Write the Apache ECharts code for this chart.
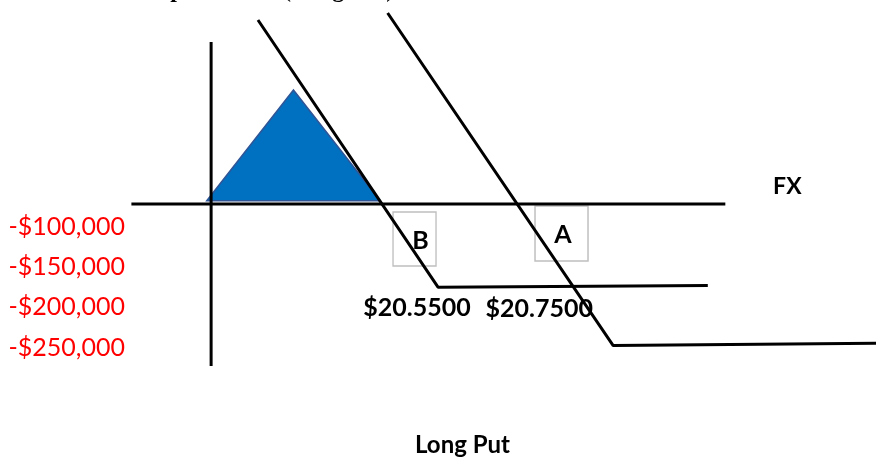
<!DOCTYPE html>
<html>
<head>
<meta charset="utf-8">
<script src="https://cdn.jsdelivr.net/npm/echarts@6.0.0/dist/echarts.min.js"></script>
<style>
  html, body { margin: 0; padding: 0; background: #ffffff; }
  #chart { width: 876px; height: 458px; }
</style>
</head>
<body>
<div id="chart"></div>
<script>
// Horizontal axis: FX rate. Vertical axis: profit in dollars.
const fxRange = [20.05, 21.05];
const profitRange = [-317500, 255000];

// Hand-drawn axes of the payoff sketch
const fxAxisLine = [[20.20, 0], [20.878, 0]];
const profitAxisLine = [[20.291, 202500], [20.291, -202500]];

// Shaded gain region
const gainTriangle = [[20.286, 4000], [20.385, 142500], [20.484, 4000]];

// Long put payoffs (B: lower strike, A: higher strike)
const putB = [[20.3445, 230000], [20.55, -104000], [20.858, -102000]];
const putA = [[20.4925, 238750], [20.75, -177000], [21.05, -174000]];

// Strike prices and the payoff floor at each strike
const strikes = [20.55, 20.75];
const strikeFloors = [-104000, -177000];

// Boxed line tags
const tagNames = ['B', 'A'];
const tagAnchors = [[20.5232, -43750], [20.691, -36875]];

// Profit tick labels
const profitTicks = [-100000, -150000, -200000, -250000];

const labelFont = 'Lato, "Open Sans", sans-serif';
const lineStyle = { color: '#000000', width: 3 };

function money(v) {
  const s = Math.abs(v).toString().replace(/\B(?=(\d{3})+(?!\d))/g, ',');
  return (v < 0 ? '-$' : '$') + s;
}

const tagBoxSizes = [[43, 54], [53, 55]];
const tagTextOffsets = [[6, 2], [1.5, 1.5]];
const strikeTextOffsets = [[-21, 21], [-74, -37]];

const chart = echarts.init(document.getElementById('chart'), null, { renderer: 'canvas' });

chart.setOption({
  animation: false,
  backgroundColor: '#ffffff',
  grid: [
    { left: 0, right: 0, top: 0, bottom: 0 },
    { left: 130, width: 1, top: 146.7, height: 241 }
  ],
  xAxis: [
    { type: 'value', gridIndex: 0, min: fxRange[0], max: fxRange[1], show: false },
    { type: 'value', gridIndex: 1, min: 0, max: 1, show: false }
  ],
  yAxis: [
    { type: 'value', gridIndex: 0, min: profitRange[0], max: profitRange[1], show: false },
    {
      type: 'value', gridIndex: 1, min: -300000, max: 0, interval: 50000,
      axisLine: { show: false }, axisTick: { show: false }, splitLine: { show: false },
      axisLabel: {
        margin: 5,
        color: '#FF0000',
        fontFamily: labelFont,
        fontSize: 25,
        formatter: v => (profitTicks.indexOf(v) >= 0 ? money(v) : '')
      }
    }
  ],
  graphic: [
    {
      type: 'text', x: 157, y: 3, z: 10,
      style: {
        text: 'Speculation (Long Put)',
        font: 'bold 24px "Liberation Serif", "DejaVu Serif", serif',
        fill: '#000000',
        verticalAlign: 'bottom'
      }
    },
    {
      type: 'text', x: 462.5, y: 445, z: 10,
      style: {
        text: 'Long Put',
        font: 'bold 24px ' + labelFont,
        fill: '#000000',
        align: 'center',
        verticalAlign: 'middle'
      }
    }
  ],
  series: [
    {
      type: 'custom',
      name: 'gain',
      z: 1,
      data: gainTriangle,
      encode: { x: 0, y: 1 },
      renderItem: (params, api) => {
        if (params.dataIndex !== 0) return null;
        return {
          type: 'polygon',
          shape: { points: gainTriangle.map(p => api.coord(p)) },
          style: { fill: '#0070C0', stroke: '#2F5597', lineWidth: 1.5 }
        };
      }
    },
    {
      type: 'scatter',
      name: 'tags',
      z: 2,
      data: tagAnchors.map((p, i) => ({
        value: p,
        name: tagNames[i],
        symbolSize: tagBoxSizes[i],
        label: { offset: tagTextOffsets[i] }
      })),
      symbol: 'rect',
      itemStyle: { color: 'rgba(255,255,255,0)', borderColor: '#BFBFBF', borderWidth: 1.5, opacity: 1 },
      label: {
        show: true, position: 'inside', formatter: p => p.name,
        color: '#000000', fontFamily: labelFont, fontWeight: 'bold', fontSize: 25
      },
      emphasis: { disabled: true }
    },
    { type: 'line', name: 'fx axis', z: 3, data: fxAxisLine, symbol: 'none', lineStyle: lineStyle },
    { type: 'line', name: 'profit axis', z: 3, data: profitAxisLine, symbol: 'none', lineStyle: lineStyle },
    { type: 'line', name: 'put B', z: 3, data: putB, symbol: 'none', lineStyle: lineStyle },
    { type: 'line', name: 'put A', z: 3, data: putA, symbol: 'none', lineStyle: lineStyle },
    {
      type: 'scatter',
      name: 'strikes',
      z: 4,
      symbolSize: 0,
      itemStyle: { opacity: 1 },
      data: strikes.map((s, i) => ({
        value: [s, strikeFloors[i]],
        label: { offset: strikeTextOffsets[i] }
      })),
      label: {
        show: true, position: 'inside',
        formatter: p => '$' + p.value[0].toFixed(4),
        color: '#000000', fontFamily: labelFont, fontWeight: 'bold', fontSize: 25
      },
      emphasis: { disabled: true }
    },
    {
      type: 'scatter',
      name: 'axis name',
      z: 4,
      symbolSize: 0,
      itemStyle: { opacity: 1 },
      data: [fxAxisLine[fxAxisLine.length - 1]],
      label: {
        show: true, position: 'inside', offset: [62, -17],
        formatter: 'FX',
        color: '#000000', fontFamily: labelFont, fontWeight: 'bold', fontSize: 23
      },
      emphasis: { disabled: true }
    }
  ]
});
</script>
</body>
</html>
